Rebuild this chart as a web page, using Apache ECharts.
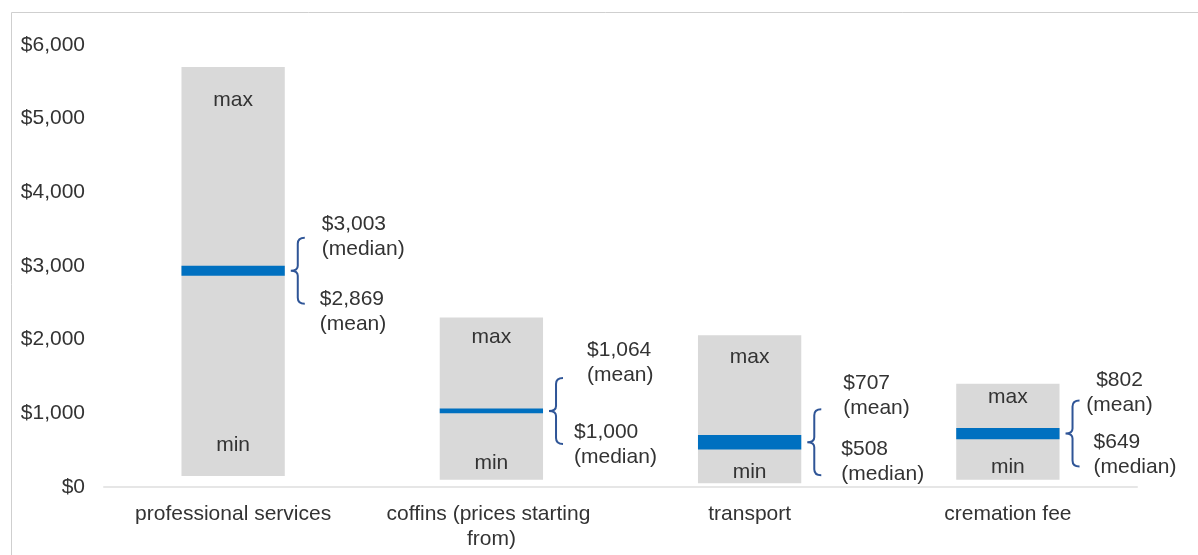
<!DOCTYPE html>
<html>
<head>
<meta charset="utf-8">
<script src="https://cdn.jsdelivr.net/npm/echarts@6/dist/echarts.min.js"></script>
<style>
  html, body { margin: 0; padding: 0; background: #ffffff; }
  #chart { width: 1198px; height: 555px; }
</style>
</head>
<body>
<div id="chart"></div>
<script>
// Funeral cost components: price range (min to max) with mean and median
const categories = ['professional services', 'coffins (prices starting from)', 'transport', 'cremation fee'];
const minValues = [150, 100, 50, 100];
const maxValues = [5700, 2300, 2060, 1400];
const meanValues = [2869, 1064, 707, 802];
const medianValues = [3003, 1000, 508, 649];
const yTicks = [0, 1000, 2000, 3000, 4000, 5000, 6000];

// Per-column placement of the annotation text (pixels)
const maxLabelGap = [33, 20, 22, 13];
const minLabelGap = [31, 16, 11, 12];
const upperDy = [-47, -61, -59, -53];
const lowerDy = [28, 21, 7, 9];
const upperDx = [24, 31, 29, 47];
const lowerDx = [22, 18, 27, 21];
const upperAlign = ['left', 'left', 'left', 'center'];

const FAMILY = "Arial, 'Liberation Sans', sans-serif";
const FONT = '21px ' + FAMILY;
const LINE = 25;
const TEXT = '#333333';
const fmt = v => '$' + Math.round(v).toLocaleString('en-US');

const rows = categories.map((c, i) => [i, minValues[i], maxValues[i], meanValues[i], medianValues[i]]);

// Curly bracket "{" centred on the mean/median band
function bracketPath(x, top, mid, bot) {
  return `M${x + 7},${top} Q${x},${top} ${x},${top + 6} L${x},${mid - 5} ` +
         `Q${x},${mid} ${x - 7},${mid} Q${x},${mid} ${x},${mid + 5} ` +
         `L${x},${bot - 6} Q${x},${bot} ${x + 7},${bot}`;
}

function renderItem(params, api) {
  const i = api.value(0);
  const lo = api.value(1), hi = api.value(2);
  const mean = api.value(3), med = api.value(4);
  const pTop = api.coord([i, hi]);
  const pBot = api.coord([i, lo]);
  const bw = api.size([1, 0])[0] * 0.4;
  const cx = pTop[0];
  const xL = cx - bw / 2;

  const upperIsMean = mean >= med;
  const vHi = Math.max(mean, med), vLo = Math.min(mean, med);
  const yHi = api.coord([i, vHi])[1];
  const yLo = api.coord([i, vLo])[1];
  const mid = (yHi + yLo) / 2;

  const bx = xL + bw + 13;
  const half = 33;
  const bTop = mid - half, bBot = mid + half;

  const upperText = fmt(vHi) + '\n' + (upperIsMean ? '(mean)' : '(median)');
  const lowerText = fmt(vLo) + '\n' + (upperIsMean ? '(median)' : '(mean)');

  return {
    type: 'group',
    children: [
      { type: 'rect', shape: { x: xL, y: pTop[1], width: bw, height: pBot[1] - pTop[1] },
        style: { fill: '#d9d9d9' } },
      { type: 'rect', shape: { x: xL, y: yHi, width: bw, height: Math.max(yLo - yHi, 1) },
        style: { fill: '#0070c0' } },
      { type: 'path',
        shape: { pathData: bracketPath(bx, bTop, mid, bBot), x: bx - 7, y: bTop,
                 width: 14, height: bBot - bTop, layout: 'cover' },
        style: { stroke: '#2f5597', lineWidth: 2, fill: null } },
      { type: 'text', x: cx, y: pTop[1] + maxLabelGap[i],
        style: { text: 'max', font: FONT, fill: TEXT, align: 'center', verticalAlign: 'middle' } },
      { type: 'text', x: cx, y: pBot[1] - minLabelGap[i],
        style: { text: 'min', font: FONT, fill: TEXT, align: 'center', verticalAlign: 'middle' } },
      { type: 'text', x: bx + upperDx[i], y: mid + upperDy[i] - LINE / 2,
        style: { text: upperText, font: FONT, fill: TEXT, lineHeight: LINE,
                 align: upperAlign[i], verticalAlign: 'top' } },
      { type: 'text', x: bx + lowerDx[i], y: mid + lowerDy[i] - LINE / 2,
        style: { text: lowerText, font: FONT, fill: TEXT, lineHeight: LINE,
                 align: 'left', verticalAlign: 'top' } }
    ]
  };
}

const chart = echarts.init(document.getElementById('chart'), null, { renderer: 'canvas' });
chart.setOption({
  animation: false,
  backgroundColor: '#ffffff',
  graphic: [{
    type: 'rect', silent: true,
    shape: { x: 11.5, y: 12.5, width: 1200, height: 560 },
    style: { fill: null, stroke: '#cfcfcf', lineWidth: 1 }
  }],
  grid: { left: 104, right: 61, top: 45, bottom: 68 },
  xAxis: {
    type: 'category',
    data: categories,
    axisLine: { lineStyle: { color: '#e6e6e6', width: 2 } },
    axisTick: { show: false },
    axisLabel: {
      color: TEXT, fontSize: 21, fontFamily: FAMILY,
      margin: 15, lineHeight: LINE, width: 222, overflow: 'break', interval: 0
    }
  },
  yAxis: {
    type: 'value',
    min: yTicks[0], max: yTicks[yTicks.length - 1], interval: 1000,
    axisLine: { show: false },
    axisTick: { show: false },
    splitLine: { show: false },
    axisLabel: {
      color: TEXT, fontSize: 21, fontFamily: FAMILY,
      margin: 19, formatter: v => fmt(v)
    }
  },
  series: [{
    type: 'custom',
    renderItem: renderItem,
    encode: { x: 0, y: [1, 2] },
    data: rows
  }]
});
</script>
</body>
</html>
